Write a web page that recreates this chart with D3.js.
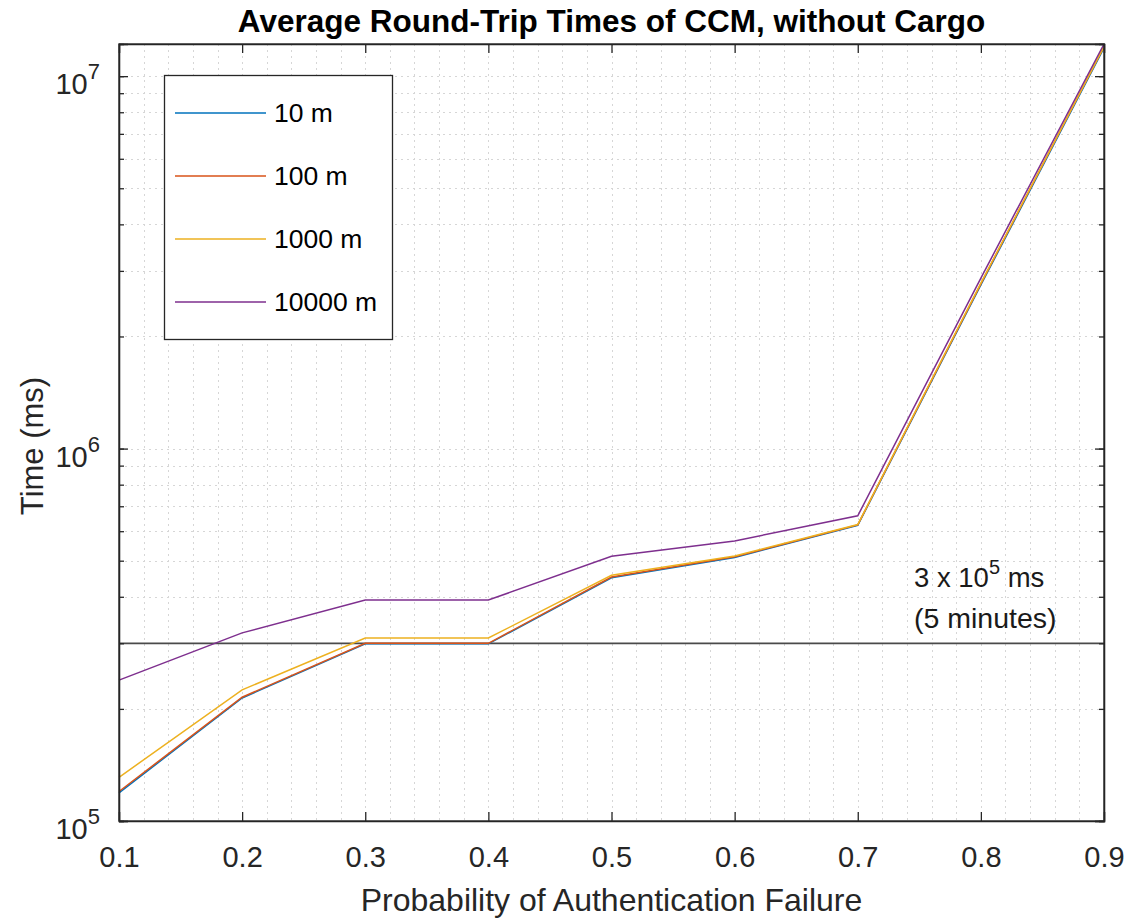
<!DOCTYPE html>
<html>
<head>
<meta charset="utf-8">
<script src="https://cdn.jsdelivr.net/npm/d3@7.9.0/dist/d3.min.js"></script>
<style>
  body { margin: 0; background: #fff; }
  svg { display: block; font-family: "Liberation Sans", Arial, Helvetica, sans-serif; }
</style>
</head>
<body>
<svg id="chart" width="1132" height="918"></svg>
<script>
// data
const probs = [0.1, 0.2, 0.3, 0.4, 0.5, 0.6, 0.7, 0.8, 0.9];
const m10 = [1.19e5, 2.14e5, 2.99e5, 2.99e5, 4.50e5, 5.10e5, 6.22e5, 2.75e6, 1.19e7];
const m100 = [1.20e5, 2.15e5, 3.00e5, 3.00e5, 4.52e5, 5.12e5, 6.24e5, 2.77e6, 1.20e7];
const m1000 = [1.31e5, 2.25e5, 3.10e5, 3.10e5, 4.57e5, 5.15e5, 6.25e5, 2.78e6, 1.20e7];
const m10000 = [2.39e5, 3.20e5, 3.92e5, 3.92e5, 5.14e5, 5.65e5, 6.60e5, 2.87e6, 1.22e7];
const seriesNames = ['10 m', '100 m', '1000 m', '10000 m'];
const seriesColors = ['#0072BD', '#D95319', '#EDB120', '#7E2F8E'];
const threshold = 3e5;
const xTicks = [0.1, 0.2, 0.3, 0.4, 0.5, 0.6, 0.7, 0.8, 0.9];
const yMajor = [1e5, 1e6, 1e7];

const series = [m10, m100, m1000, m10000];

const svg = d3.select('#chart');
const pLeft = 119, pRight = 1104, pTop = 44, pBottom = 821;

const x = d3.scaleLinear().domain([0.1, 0.9]).range([pLeft, pRight]);
const y = d3.scaleLog().domain([1e5, 1.22e7]).range([pBottom, pTop]);

// minor grid positions
const xMinor = d3.range(0.1, 0.9001, 0.02);
const yMinor = [];
[1e5, 1e6, 1e7].forEach(d => { for (let k = 1; k < 10; k++) { if (d * k <= 1.22e7) yMinor.push(d * k); } });

const grid = svg.append('g').attr('stroke', '#d6d6d6').attr('stroke-width', 1).attr('stroke-dasharray', '2,4');
grid.selectAll('line.gx').data(xMinor).enter().append('line')
    .attr('x1', d => Math.round(x(d)) + 0.5).attr('x2', d => Math.round(x(d)) + 0.5)
    .attr('y1', pTop).attr('y2', pBottom);
grid.selectAll('line.gy').data(yMinor).enter().append('line')
    .attr('y1', d => Math.round(y(d)) + 0.5).attr('y2', d => Math.round(y(d)) + 0.5)
    .attr('x1', pLeft).attr('x2', pRight);

// threshold line at 3e5 ms
svg.append('line')
    .attr('x1', pLeft).attr('x2', pRight)
    .attr('y1', y(threshold)).attr('y2', y(threshold))
    .attr('stroke', '#4a4a4a').attr('stroke-width', 1.7);

const line = d3.line().x((d, i) => x(probs[i])).y(d => y(d));
svg.selectAll('path.series').data(series).enter().append('path')
    .attr('class', 'series')
    .attr('d', d => line(d))
    .attr('fill', 'none')
    .attr('stroke', (d, i) => seriesColors[i])
    .attr('stroke-width', 1.5);

// axes box + inward ticks
const axisColor = '#262626';
const xAxisB = d3.axisBottom(x).tickValues(xTicks).tickSize(-9).tickFormat(d3.format('.1f')).tickPadding(25);
const gx = svg.append('g').attr('transform', `translate(0,${pBottom})`).call(xAxisB);
gx.selectAll('text').attr('font-size', 29).attr('fill', axisColor).attr('font-family', 'Liberation Sans, Arial');
const gxt = svg.append('g').attr('transform', `translate(0,${pTop})`).call(d3.axisTop(x).tickValues(xTicks).tickSize(-9).tickFormat(''));

const gy = svg.append('g').attr('transform', `translate(${pLeft},0)`).call(d3.axisLeft(y).tickValues(yMinor).tickSize(-5).tickFormat(''));
const gy2 = svg.append('g').attr('transform', `translate(${pLeft},0)`).call(d3.axisLeft(y).tickValues(yMajor).tickSize(-9).tickFormat(''));
const gyr = svg.append('g').attr('transform', `translate(${pRight},0)`).call(d3.axisRight(y).tickValues(yMinor).tickSize(-5).tickFormat(''));
const gyr2 = svg.append('g').attr('transform', `translate(${pRight},0)`).call(d3.axisRight(y).tickValues(yMajor).tickSize(-9).tickFormat(''));
[gx, gxt, gy, gy2, gyr, gyr2].forEach(g => {
    g.selectAll('path.domain').attr('stroke', axisColor).attr('stroke-width', 1.3);
    g.selectAll('.tick line').attr('stroke', axisColor).attr('stroke-width', 1.3);
});
svg.append('rect').attr('x', pLeft).attr('y', pTop).attr('width', pRight - pLeft).attr('height', pBottom - pTop)
    .attr('fill', 'none').attr('stroke', axisColor).attr('stroke-width', 1.3);

// y tick labels 10^n
const yl = svg.append('g').selectAll('text').data(yMajor).enter().append('text')
    .attr('x', 100).attr('y', d => y(d) + 18)
    .attr('text-anchor', 'end').attr('fill', axisColor).attr('font-size', 29);
yl.append('tspan').text('10');
yl.append('tspan').attr('dy', -15).attr('font-size', 22).text(d => Math.round(Math.log10(d)));

// titles
svg.append('text').attr('x', (pLeft + pRight) / 2).attr('y', 32).attr('text-anchor', 'middle')
    .attr('font-weight', 'bold').attr('font-size', 31.5).attr('fill', '#000')
    .text('Average Round-Trip Times of CCM, without Cargo');
svg.append('text').attr('x', (pLeft + pRight) / 2).attr('y', 911).attr('text-anchor', 'middle')
    .attr('font-size', 32).attr('fill', axisColor)
    .text('Probability of Authentication Failure');
svg.append('text').attr('transform', `translate(43,446) rotate(-90)`).attr('text-anchor', 'middle')
    .attr('font-size', 31).attr('fill', axisColor)
    .text('Time (ms)');

// annotation
const ann = svg.append('text').attr('x', 914).attr('y', 587).attr('font-size', 27.5).attr('fill', '#1a1a1a');
ann.append('tspan').text('3 x 10');
ann.append('tspan').attr('dy', -13).attr('font-size', 20).text('5');
ann.append('tspan').attr('dy', 13).text(' ms');
svg.append('text').attr('x', 914).attr('y', 628).attr('font-size', 28.5).attr('fill', '#1a1a1a').text('(5 minutes)');

// legend
const leg = svg.append('g');
leg.append('rect').attr('x', 164.5).attr('y', 75.5).attr('width', 228).attr('height', 264)
    .attr('fill', '#fff').attr('stroke', axisColor).attr('stroke-width', 1.3);
const legY = d3.scalePoint().domain(seriesNames).range([113, 302]);
const items = leg.selectAll('g.item').data(seriesNames).enter().append('g').attr('class', 'item');
items.append('line').attr('x1', 175).attr('x2', 266)
    .attr('y1', d => legY(d)).attr('y2', d => legY(d))
    .attr('stroke', (d, i) => seriesColors[i]).attr('stroke-width', 1.5);
items.append('text').attr('x', 274).attr('y', d => legY(d) + 9)
    .attr('font-size', 26.5).attr('fill', '#000').text(d => d);
</script>
</body>
</html>
